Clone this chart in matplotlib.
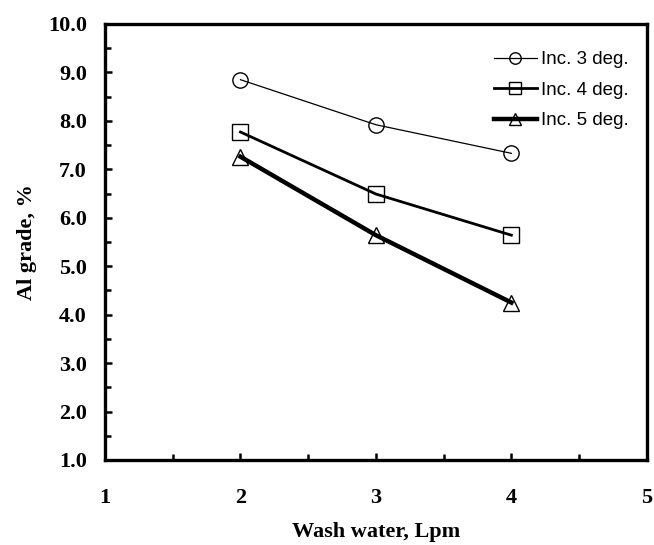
import matplotlib
matplotlib.use("Agg")
import matplotlib.pyplot as plt
from matplotlib.ticker import MultipleLocator, FormatStrFormatter

# data
wash_water = [2, 3, 4]
inc3 = [8.85, 7.92, 7.33]
inc4 = [7.77, 6.49, 5.64]
inc5 = [7.26, 5.64, 4.25]
labels = ["Inc. 3 deg.", "Inc. 4 deg.", "Inc. 5 deg."]

serif = ["Liberation Serif", "DejaVu Serif"]

fig = plt.figure(figsize=(6.54, 5.45), dpi=100)
ax = fig.add_axes([0.1606, 0.156, 0.8284, 0.800])

ax.plot(wash_water, inc3, color="black", lw=0.9, marker="o", ms=11,
        mfc="none", mec="black", mew=1.0, label=labels[0])
ax.plot(wash_water, inc4, color="black", lw=2.0, marker="s", ms=11,
        mfc="none", mec="black", mew=1.0, label=labels[1])
ax.plot(wash_water, inc5, color="black", lw=3.2, marker="^", ms=11,
        mfc="none", mec="black", mew=1.0, label=labels[2])

ax.set_xlim(1, 5)
ax.set_ylim(1.0, 10.0)
ax.xaxis.set_major_locator(MultipleLocator(1))
ax.xaxis.set_minor_locator(MultipleLocator(0.5))
ax.yaxis.set_major_locator(MultipleLocator(1))
ax.yaxis.set_minor_locator(MultipleLocator(0.5))
ax.yaxis.set_major_formatter(FormatStrFormatter("%.1f"))

for s in ax.spines.values():
    s.set_linewidth(2.4)

ax.tick_params(which="major", direction="in", length=5, width=1.8)
ax.tick_params(which="minor", direction="in", length=4.5, width=1.8)
ax.tick_params(axis="x", which="major", pad=20)
ax.tick_params(axis="y", which="major", pad=13)

for lab in ax.get_xticklabels() + ax.get_yticklabels():
    lab.set_fontfamily(serif)
    lab.set_fontweight("bold")
    lab.set_fontsize(16)

ax.set_xlabel("Wash water, Lpm", fontfamily=serif, fontweight="bold",
              fontsize=16, labelpad=10.5)
ax.set_ylabel("Al grade, %", fontfamily=serif, fontweight="bold",
              fontsize=16, labelpad=8)

ax.legend(loc="upper right", bbox_to_anchor=(0.966, 0.938), frameon=False,
          prop={"family": "Liberation Sans", "size": 13.5},
          handlelength=2.3, handletextpad=0.2, labelspacing=0.72,
          borderaxespad=0, borderpad=0, markerscale=0.75)

fig.savefig("out.png", dpi=100)
